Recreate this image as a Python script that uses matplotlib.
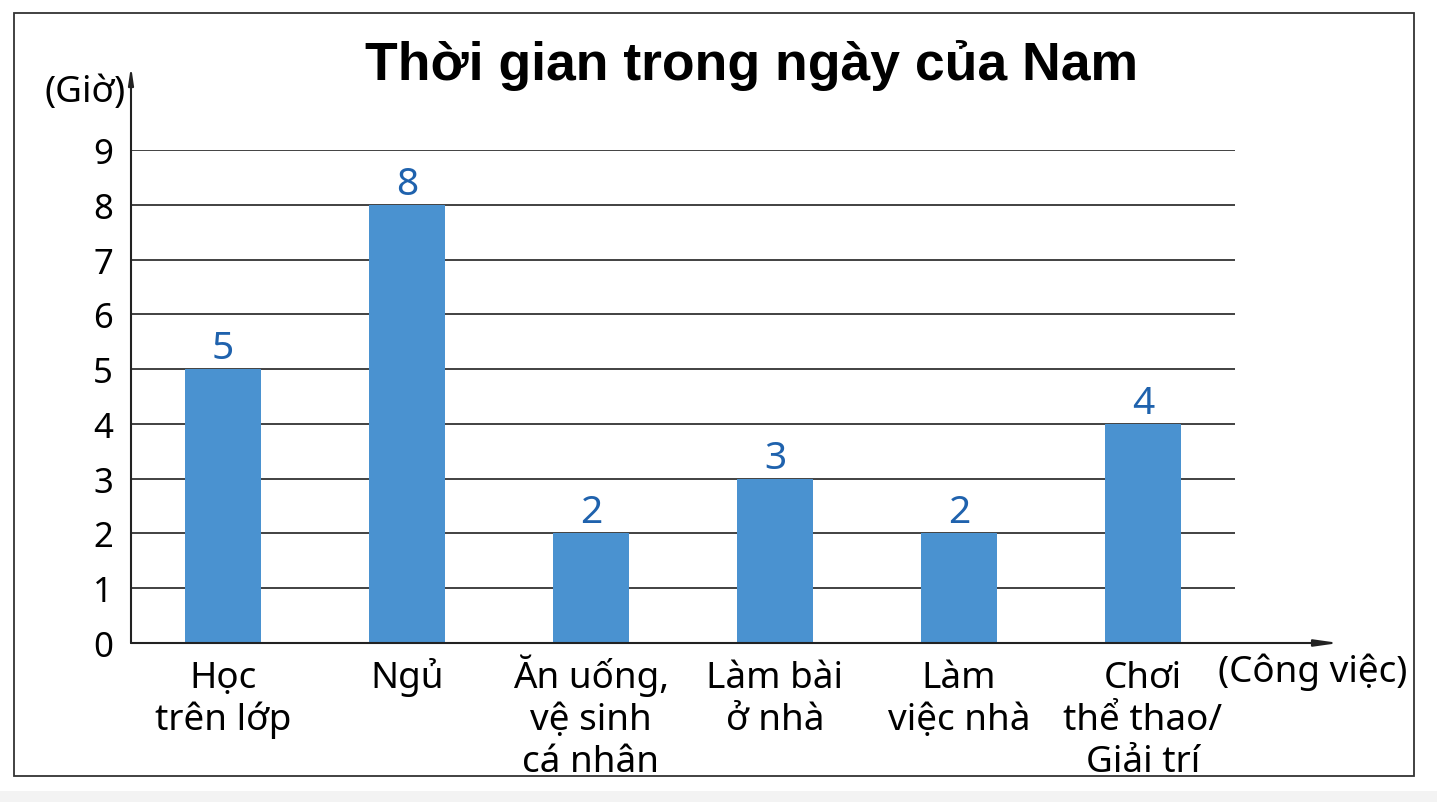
import matplotlib
matplotlib.use('Agg')
import matplotlib.pyplot as plt
from matplotlib.patches import Rectangle

# data
activities = ['Học\ntrên lớp', 'Ngủ', 'Ăn uống,\nvệ sinh\ncá nhân',
              'Làm bài\nở nhà', 'Làm\nviệc nhà', 'Chơi\nthể thao/\nGiải trí']
hours = [5, 8, 2, 3, 2, 4]
yticks = [0, 1, 2, 3, 4, 5, 6, 7, 8, 9]
title = 'Thời gian trong ngày của Nam'
ylabel = '(Giờ)'
xlabel = '(Công việc)'

bar_color = '#4a92d0'
value_color = '#1f62ad'
font = ['Noto Sans', 'DejaVu Sans']

W, H = 1437, 803
fig = plt.figure(figsize=(W / 100, H / 100), dpi=100)
fig.patch.set_facecolor('white')

# light band at the bottom and the outer frame
fig.patches.append(Rectangle((0, 0), 1, 11 / H, transform=fig.transFigure,
                             facecolor='#f3f3f3', edgecolor='none', zorder=0))
fig.patches.append(Rectangle((14 / W, (H - 777) / H), 1400 / W, (777 - 14) / H,
                             transform=fig.transFigure, facecolor='none',
                             edgecolor='#333333', lw=1.3, zorder=1))

ax = fig.add_axes([131 / W, (H - 644) / H, 1104 / W, 493 / H])
ax.set_facecolor('none')

x = list(range(len(hours)))
ax.bar(x, hours, width=0.41, color=bar_color, zorder=3)
ax.set_xlim(-0.5, 5.5)
ax.set_ylim(0, 9)

for v in yticks[1:]:
    ax.axhline(v, color='#333333', lw=1.3, zorder=1)

for xi, v in zip(x, hours):
    ax.annotate(str(v), (xi, v), xytext=(0, 8), textcoords='offset points',
                ha='center', va='baseline', fontsize=28, color=value_color,
                family=font)

for s in ['top', 'right', 'left', 'bottom']:
    ax.spines[s].set_visible(False)

# axes with arrows
ax.annotate('', xy=(0, 1.17), xytext=(0, 0), xycoords='axes fraction',
            arrowprops=dict(arrowstyle='-|>,head_length=1.0,head_width=0.15',
                            color='#222222', lw=1.5, shrinkA=0, shrinkB=0))
ax.annotate('', xy=(1.094, 0), xytext=(0, 0), xycoords='axes fraction',
            arrowprops=dict(arrowstyle='-|>,head_length=1.4,head_width=0.2',
                            color='#222222', lw=1.5, shrinkA=0, shrinkB=0))

ax.set_yticks(yticks)
ax.set_yticklabels([str(t) for t in yticks], fontsize=25, family=font)
ax.tick_params(axis='y', length=0, pad=13)
ax.set_xticks([])

# category labels, one line at a time so baselines line up
for xi, lab in zip(x, activities):
    for i, line in enumerate(lab.split('\n')):
        ax.annotate(line, (xi, 0), xycoords=ax.get_xaxis_transform(),
                    xytext=(0, -31.7 - i * 30.2), textcoords='offset points',
                    ha='center', va='baseline', fontsize=26.5, family=font,
                    annotation_clip=False)

ax.text(-0.005, 1.118, ylabel, transform=ax.transAxes, ha='right',
        va='center', fontsize=26.5, family=font)
ax.text(0.985, -0.058, xlabel, transform=ax.transAxes, ha='left',
        va='center', fontsize=26.5, family=font)

fig.text(752 / W, (H - 80) / H, title, ha='center', va='baseline',
         fontsize=38.5, fontweight='bold', family=['Liberation Sans', 'DejaVu Sans'])

fig.savefig('out.png', dpi=100)
